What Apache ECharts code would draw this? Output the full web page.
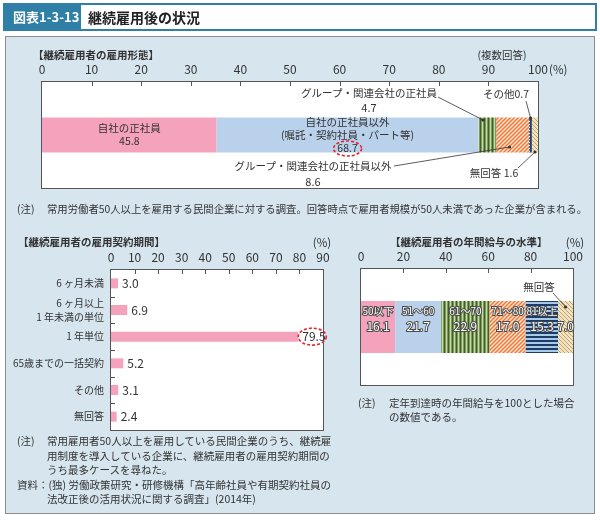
<!DOCTYPE html>
<html><head><meta charset="utf-8">
<script src="https://cdn.jsdelivr.net/npm/echarts@6/dist/echarts.min.js"></script>
<style>
html,body{margin:0;padding:0;background:#fff}
#wrap{position:relative;width:600px;height:520px;font-family:'Noto Sans CJK JP','Noto Sans',sans-serif}
#panel{position:absolute;left:5px;top:36px;width:590px;height:478px;box-sizing:border-box;background:#d6e5ee;border:1.5px solid #8c8c8c}
#tbar{position:absolute;left:3px;top:3px;width:594px;height:28px;box-sizing:border-box;background:#fff;border:2px solid #2f7fa7}
#tblock{position:absolute;left:3px;top:3px;width:78px;height:28px;background:#2f7fa7}
#c{position:absolute;left:0;top:0;width:600px;height:520px}
.frame{position:absolute;box-sizing:border-box;background:#fff;border:1px solid #555}
.tick{position:absolute;background:#555;pointer-events:none}
.t{position:absolute;white-space:pre;color:#333;font-size:10.5px;line-height:14px;pointer-events:none}
#ov{position:absolute;left:0;top:0;pointer-events:none}
</style>
</head><body><div id="wrap"><div id="panel"></div><div id="tbar"></div><div id="tblock"></div><div id="frames"></div><div id="c"></div><div id="ticks"></div><div id="texts"></div><svg id="ov" width="600" height="520"></svg></div>
<script>
// ---- data ----
const formCats = ['自社の正社員', '自社の正社員以外\n(嘱託・契約社員・パート等)', 'グループ・関連会社の正社員', 'グループ・関連会社の正社員以外', 'その他', '無回答'];
const formValues = [45.8, 68.7, 4.7, 8.6, 0.7, 1.6];
const formTicks = [0, 10, 20, 30, 40, 50, 60, 70, 80, 90, 100];

const periodCats = ['6 ヶ月未満', '6 ヶ月以上\n1 年未満の単位', '1 年単位', '65歳までの一括契約', 'その他', '無回答'];
const periodValues = [3.0, 6.9, 79.5, 5.2, 3.1, 2.4];
const periodTicks = [0, 10, 20, 30, 40, 50, 60, 70, 80, 90];

const wageCats = ['50以下', '51～60', '61～70', '71～80', '81以上', '無回答'];
const wageValues = [16.1, 21.7, 22.9, 17.0, 15.3, 7.0];
const wageTicks = [0, 20, 40, 60, 80, 100];

// ---- styles ----
const FONT = "'Noto Sans CJK JP','Noto Sans',sans-serif";
const PINK = '#f5a3bd', BLUE = '#b9d1eb';

function pattern(w, h, bg, draw) {
  const c = document.createElement('canvas');
  c.width = w; c.height = h;
  const ctx = c.getContext('2d');
  ctx.fillStyle = bg; ctx.fillRect(0, 0, w, h);
  draw(ctx);
  return { image: c, repeat: 'repeat' };
}
const greenStripe = pattern(4, 4, '#7d9b58', ctx => {
  ctx.fillStyle = '#3f5e2b'; ctx.fillRect(0, 0, 1, 4);
  ctx.fillStyle = '#c9d9aa'; ctx.fillRect(2, 0, 1, 4);
});
const orangeHatch = pattern(4, 4, '#fde4d2', ctx => {
  ctx.strokeStyle = '#ef7a3a'; ctx.lineWidth = 1.5; ctx.beginPath();
  ctx.moveTo(-1, 5); ctx.lineTo(5, -1);
  ctx.moveTo(-1, 1); ctx.lineTo(1, -1);
  ctx.moveTo(3, 5); ctx.lineTo(5, 3);
  ctx.stroke();
});
const navyDots = pattern(3, 3, '#20406f', ctx => {
  ctx.fillStyle = '#ffffff'; ctx.fillRect(1, 1, 1, 1);
});
const beigeHatch = pattern(4, 4, '#f2e4c2', ctx => {
  ctx.strokeStyle = '#c2a266'; ctx.lineWidth = 1; ctx.beginPath();
  ctx.moveTo(-1, -1); ctx.lineTo(5, 5);
  ctx.moveTo(3, -1); ctx.lineTo(5, 1);
  ctx.moveTo(-1, 3); ctx.lineTo(1, 5);
  ctx.stroke();
});
const navyStripeH = pattern(4, 4, '#a9cae6', ctx => {
  ctx.fillStyle = '#1e3a66'; ctx.fillRect(0, 0, 4, 2);
});
const formColors = [PINK, BLUE, greenStripe, orangeHatch, navyDots, beigeHatch];
const wageColors = [PINK, BLUE, greenStripe, orangeHatch, navyStripeH, beigeHatch];

const formTotal = formValues.reduce((a, b) => a + b, 0);

const grids = [
  { left: 42, top: 82, width: 496, height: 106 },
  { left: 111, top: 270, width: 212, height: 160 },
  { left: 361, top: 269, width: 212, height: 116 }
];

function valAxis(gi, ticks) {
  return {
    type: 'value', gridIndex: gi, position: 'top',
    min: ticks[0], max: ticks[ticks.length - 1], interval: ticks[1] - ticks[0],
    axisLine: { show: false }, axisTick: { show: false },
    axisLabel: { show: true, color: '#333', fontSize: 12, margin: 7, fontFamily: FONT },
    splitLine: { show: false }
  };
}

const series = [];
formValues.forEach((v, i) => {
  series.push({
    type: 'bar', xAxisIndex: 0, yAxisIndex: 0, stack: 'form', barWidth: 35, silent: true,
    data: [v / formTotal * 100],
    itemStyle: { color: formColors[i] },
    label: i < 2 ? {
      show: true, position: 'inside', color: '#333', fontSize: 10.5, lineHeight: 13, fontFamily: FONT,
      formatter: () => formCats[i] + '\n' + v.toFixed(1)
    } : { show: false }
  });
});
series.push({
  type: 'bar', xAxisIndex: 1, yAxisIndex: 1, barWidth: 10, silent: true,
  data: periodValues, itemStyle: { color: PINK },
  label: { show: true, position: 'right', distance: 4, color: '#333', fontSize: 12, fontFamily: FONT,
    formatter: p => p.value.toFixed(1) }
});
const outline = { color: '#fff', textBorderColor: '#4a4a4a', textBorderWidth: 2, fontFamily: FONT };
wageValues.forEach((v, i) => {
  series.push({
    type: 'bar', xAxisIndex: 2, yAxisIndex: 2, stack: 'wage', barWidth: 52, silent: true,
    data: [v], itemStyle: { color: wageColors[i] },
    label: {
      show: true, position: 'insideTop', distance: 2.5,
      formatter: () => '{n|' + (i < 5 ? wageCats[i] : '　') + '}\n{v|' + v.toFixed(1) + '}',
      rich: {
        n: Object.assign({ fontSize: 10, lineHeight: 15 }, outline),
        v: Object.assign({ fontSize: 12, lineHeight: 16 }, outline)
      }
    }
  });
});

const chart = echarts.init(document.getElementById('c'), null, { renderer: 'canvas' });
chart.setOption({
  animation: false,
  backgroundColor: 'transparent',
  textStyle: { fontFamily: FONT },
  grid: grids.map(r => Object.assign({ show: false }, r)),
  xAxis: [valAxis(0, formTicks), valAxis(1, periodTicks), valAxis(2, wageTicks)],
  yAxis: [
    { type: 'category', gridIndex: 0, data: ['形態'], show: false },
    { type: 'category', gridIndex: 1, data: periodCats, inverse: true,
      axisLine: { show: false }, axisTick: { show: false },
      axisLabel: { color: '#333', fontSize: 10, lineHeight: 14.5, margin: 7, fontFamily: FONT } },
    { type: 'category', gridIndex: 2, data: ['水準'], show: false }
  ],
  series: series
});

// ---- plot frames (under the canvas) and axis ticks (over it), placed from the axes ----
const framesEl = document.getElementById('frames'), ticksEl = document.getElementById('ticks');
const textsEl = document.getElementById('texts'), ov = document.getElementById('ov');
grids.forEach(r => {
  const d = document.createElement('div');
  d.className = 'frame';
  d.style.cssText = `left:${r.left - 1}px;top:${r.top - 1}px;width:${r.width + 2}px;height:${r.height + 2}px`;
  framesEl.appendChild(d);
});
function tick(x, y, w, h) {
  const d = document.createElement('div');
  d.className = 'tick';
  d.style.cssText = `left:${x}px;top:${y}px;width:${w}px;height:${h}px`;
  ticksEl.appendChild(d);
}
const px = (gi, x) => chart.convertToPixel({ gridIndex: gi }, [x, 0]);
[[0, formTicks], [1, periodTicks], [2, wageTicks]].forEach(([gi, ticks]) => {
  ticks.slice(1, -1).forEach(t => tick(Math.round(px(gi, t)[0]) - 0.5, grids[gi].top, 1, 4));
});
for (let i = 0; i < periodCats.length - 1; i++) {
  const y = (chart.convertToPixel({ gridIndex: 1 }, [0, i])[1] + chart.convertToPixel({ gridIndex: 1 }, [0, i + 1])[1]) / 2;
  tick(grids[1].left, Math.round(y) - 0.5, 4, 1);
}

// ---- annotations (real text + svg strokes) ----
function T(x, y, text, o) {
  o = o || {};
  const d = document.createElement('div');
  d.className = 't';
  d.textContent = text;
  const tx = o.align === 'center' ? '-50%' : '0';
  d.style.cssText = `left:${x}px;top:${y}px;transform:translate(${tx},-50%);font-size:${o.size || 10.5}px;` +
    `color:${o.fill || '#333'};font-weight:${o.weight || 'normal'};text-align:${o.align || 'left'}`;
  textsEl.appendChild(d);
}
const NS = 'http://www.w3.org/2000/svg';
function svgEl(tag, attrs) {
  const e = document.createElementNS(NS, tag);
  Object.keys(attrs).forEach(k => e.setAttribute(k, attrs[k]));
  ov.appendChild(e);
}
function L(x1, y1, x2, y2) {
  svgEl('line', { x1: x1, y1: y1, x2: x2, y2: y2, stroke: '#333', 'stroke-width': 0.8 });
  svgEl('circle', { cx: x2, cy: y2, r: 1.6, fill: '#333' });
}
function E(cx, cy, rx, ry) {
  svgEl('ellipse', { cx: cx, cy: cy, rx: rx, ry: ry, fill: 'none', stroke: '#e3262b', 'stroke-width': 1.6, 'stroke-dasharray': '3 2' });
}

const cum = arr => { let s = 0; return arr.map(v => { const a = s; s += v; return a; }); };
const formN = formValues.map(v => v / formTotal * 100);
const formStart = cum(formN);
const wageStart = cum(wageValues);

const c1 = px(0, 0)[1];
const gEnd = px(0, formStart[2] + formN[2] * 0.25);
const oEnd = px(0, formStart[3] + formN[3] * 0.4);
const sEnd = px(0, formStart[4] + formN[4] * 0.5);
const nEnd = px(0, formStart[5] + formN[5] * 0.5);
const blueMid = px(0, formStart[1] + formN[1] / 2);
const p79 = chart.convertToPixel({ gridIndex: 1 }, [periodValues[2], 2]);
const c3 = px(2, 0)[1];
const wEnd = px(2, wageStart[5] + wageValues[5] * 0.5);

T(13, 17, '図表1-3-13', { fill: '#fff', size: 13, weight: 'bold' });
T(88, 17, '継続雇用後の状況', { fill: '#222', size: 14, weight: 'bold' });

// chart 1 texts
T(33, 55, '【継続雇用者の雇用形態】', { weight: 'bold' });
T(502, 55, '(複数回答)', { align: 'center' });
T(549, 69, '(%)', { size: 11.5 });
T(369, 93, formCats[2], { align: 'center' });
T(369, 107, formValues[2].toFixed(1), { align: 'center', size: 11 });
T(506, 94, formCats[4] + formValues[4].toFixed(1), { align: 'center' });
T(313, 166, formCats[3], { align: 'center' });
T(313, 181, formValues[3].toFixed(1), { align: 'center', size: 11 });
T(494, 173, formCats[5] + ' ' + formValues[5].toFixed(1), { align: 'center' });
E(blueMid[0], c1 + 13.5, 14, 7.5);
T(17, 209, '(注)');
T(47, 209, '常用労働者50人以上を雇用する民間企業に対する調査。回答時点で雇用者規模が50人未満であった企業が含まれる。', { size: 10.35 });

// chart 2 texts
T(18, 242, '【継続雇用者の雇用契約期間】', { weight: 'bold' });
T(322, 242, '(%)', { align: 'center', size: 11.5 });
E(p79[0] + 14, p79[1], 14, 8.5);
T(17, 441, '(注)');
T(47, 441, '常用雇用者50人以上を雇用している民間企業のうち、継続雇');
T(47, 456, '用制度を導入している企業に、継続雇用者の雇用契約期間の');
T(47, 470, 'うち最多ケースを尋ねた。');
T(17, 485, '資料：(独) 労働政策研究・研修機構「高年齢社員や有期契約社員の');
T(47, 499, '法改正後の活用状況に関する調査」(2014年)');

// chart 3 texts
T(390, 242, '【継続雇用者の年間給与の水準】', { weight: 'bold' });
T(575, 242, '(%)', { align: 'center', size: 11.5 });
T(539, 287, wageCats[5], { align: 'center' });
T(358, 403, '(注)');
T(389, 403, '定年到達時の年間給与を100とした場合');
T(389, 417, 'の数値である。');

L(438, 97, gEnd[0], c1 - 15);
L(394, 166, oEnd[0], c1 + 12);
L(526, 101, sEnd[0], c1 - 17);
L(518, 168, nEnd[0], c1 + 17);
L(553, 293, wEnd[0], c3 - 20);
</script></body></html>
